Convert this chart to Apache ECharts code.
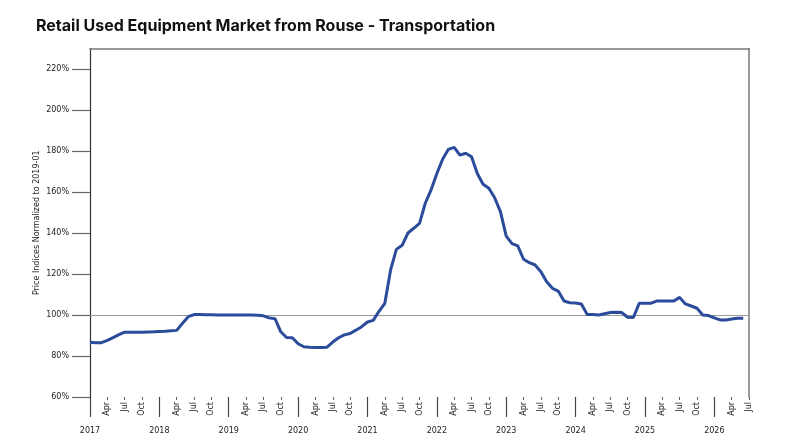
<!DOCTYPE html>
<html>
<head>
<meta charset="utf-8">
<script src="https://cdn.jsdelivr.net/npm/echarts@6/dist/echarts.min.js"></script>
<style>
html,body{margin:0;padding:0;background:#fff;}
#chart{width:800px;height:445px;}
</style>
</head>
<body>
<div id="chart"></div>
<script>
const titleText = 'Retail Used Equipment Market from Rouse - Transportation';
const yAxisTitle = 'Price Indices Normalized to 2019-01';
const years = ['2017','2018','2019','2020','2021','2022','2023','2024','2025','2026'];
const monthNames = ['Jan','Feb','Mar','Apr','May','Jun','Jul','Aug','Sep','Oct','Nov','Dec'];
const shownMonths = ['Apr','Jul','Oct'];
const lastCategory = '2026-07';
const yTicks = [60,80,100,120,140,160,180,200,220];
const referenceLevel = 100;

// monthly index values, 2017-01 .. 2026-06 (percent)
const priceIndex = [
  86.7, 86.5, 86.5, 87.6, 89.0, 90.4, 91.6, 91.6, 91.6, 91.6, 91.7, 91.8,
  92.0, 92.1, 92.3, 92.5, 96.0, 99.2, 100.2, 100.2, 100.1, 100.1, 100.0, 100.0,
  100.0, 100.0, 100.0, 100.0, 100.0, 99.9, 99.6, 98.6, 98.2, 91.8, 89.0, 88.9,
  86.0, 84.5, 84.3, 84.2, 84.2, 84.3, 86.8, 88.9, 90.3, 91.0, 92.6, 94.3,
  96.6, 97.4, 101.8, 105.7, 122.0, 132.0, 134.0, 140.0, 142.3, 144.7, 154.5, 161.0,
  169.0, 176.0, 180.8, 181.8, 178.0, 178.9, 177.2, 169.0, 163.8, 161.8, 157.2, 150.4,
  138.5, 134.8, 133.7, 127.2, 125.5, 124.4, 121.1, 116.2, 113.0, 111.7, 106.8, 106.0,
  105.8, 105.4, 100.3, 100.2, 100.0, 100.6, 101.2, 101.3, 101.2, 98.9, 98.8, 105.7,
  105.7, 105.7, 106.8, 106.8, 106.8, 106.8, 108.6, 105.4, 104.4, 103.3, 100.0, 99.7,
  98.6, 97.6, 97.6, 98.0, 98.4, 98.4
];

const categories = [];
for (const y of years) {
  for (let m = 1; m <= 12; m++) {
    const key = y + '-' + String(m).padStart(2, '0');
    categories.push(key);
    if (key === lastCategory) break;
  }
}

const monthOf = v => monthNames[parseInt(v.slice(5), 10) - 1];
const isShownMonth = (i, v) => shownMonths.indexOf(monthOf(v)) >= 0;
const isYearStart = (i, v) => v.slice(5) === '01';

const axisFont = 'DejaVu Sans';
const chart = echarts.init(document.getElementById('chart'));
chart.setOption({
  animation: false,
  backgroundColor: '#fff',
  title: {
    text: titleText,
    left: 31,
    top: 13,
    textStyle: { fontFamily: 'Inter', fontWeight: 700, fontSize: 16, color: '#111' }
  },
  grid: { left: 90, right: 51, top: 48.5, bottom: 48, outerBoundsMode: 'none' },
  xAxis: [
    {
      type: 'category', data: categories, boundaryGap: false, position: 'bottom',
      axisLine: { show: false },
      axisTick: { show: true, interval: isShownMonth, length: 3, lineStyle: { color: '#666', width: 1 } },
      axisLabel: {
        interval: isShownMonth, rotate: 90, margin: 5,
        formatter: v => monthOf(v),
        fontFamily: axisFont, fontSize: 8, color: '#222'
      },
      splitLine: { show: false }
    },
    {
      type: 'category', data: categories, boundaryGap: false, position: 'bottom',
      axisLine: { show: false },
      axisTick: { show: true, interval: isYearStart, length: 20, lineStyle: { color: '#444', width: 1.2 } },
      axisLabel: {
        interval: isYearStart, margin: 30,
        formatter: v => v.slice(0, 4),
        fontFamily: axisFont, fontSize: 8, color: '#222'
      },
      splitLine: { show: false }
    },
    {
      type: 'category', data: categories, boundaryGap: false, position: 'top',
      axisLine: { show: true, lineStyle: { color: '#777', width: 1.5 } },
      axisTick: { show: false }, axisLabel: { show: false }, splitLine: { show: false }
    }
  ],
  yAxis: [
    {
      type: 'value', min: 60, max: 230, position: 'left',
      name: yAxisTitle, nameLocation: 'middle', nameGap: 49, nameRotate: 90,
      nameMoveOverlap: false,
      nameTextStyle: { fontFamily: axisFont, fontSize: 8, color: '#222' },
      axisLine: { show: true, lineStyle: { color: '#333', width: 1.2 } },
      axisTick: { show: true, customValues: yTicks, length: 18, lineStyle: { color: '#666', width: 1.2 } },
      axisLabel: {
        customValues: yTicks, margin: 21,
        formatter: '{value}%',
        fontFamily: axisFont, fontSize: 8, color: '#222'
      },
      splitLine: { show: false }
    },
    {
      type: 'value', min: 60, max: 230, position: 'right',
      axisLine: { show: true, lineStyle: { color: '#777', width: 1.5 } },
      axisTick: { show: false }, axisLabel: { show: false }, splitLine: { show: false }
    }
  ],
  series: [
    {
      type: 'line',
      data: priceIndex,
      xAxisIndex: 0, yAxisIndex: 0,
      symbol: 'none',
      smooth: false,
      lineStyle: { color: '#2B4B9B', width: 3 },
      z: 3,
      markLine: {
        silent: true,
        symbol: 'none',
        label: { show: false },
        lineStyle: { color: '#999', width: 1.2, type: 'solid' },
        data: [{ yAxis: referenceLevel }],
        z: 1
      }
    }
  ]
});
</script>
</body>
</html>
